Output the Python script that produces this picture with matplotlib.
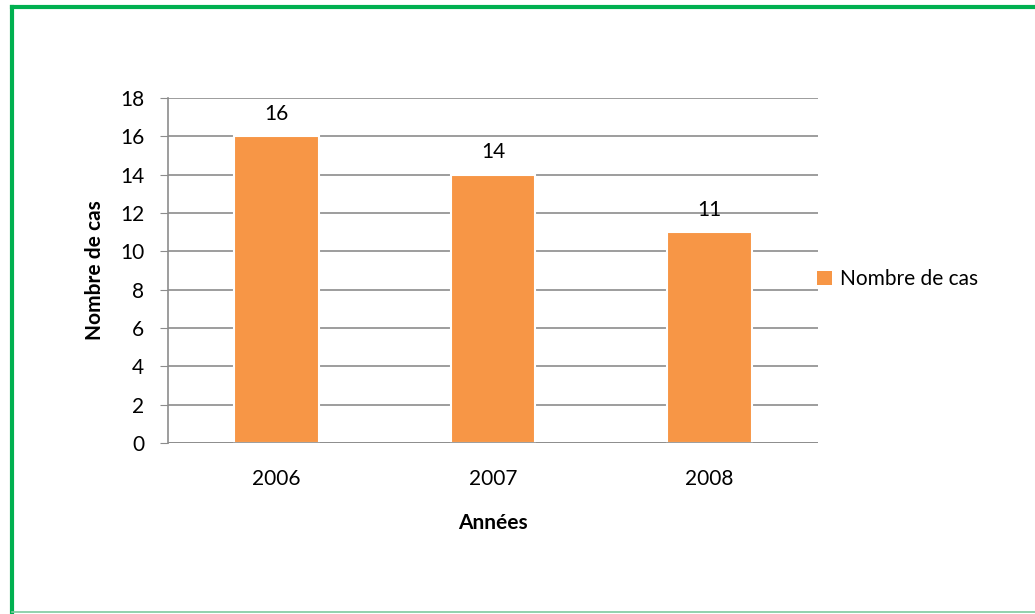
import matplotlib
matplotlib.use("Agg")
import matplotlib.pyplot as plt
from matplotlib.lines import Line2D
from matplotlib.patches import Patch

# data
years = ["2006", "2007", "2008"]
cases = [16, 14, 11]
y_ticks = [0, 2, 4, 6, 8, 10, 12, 14, 16, 18]

plt.rcParams['font.family'] = ['Lato', 'DejaVu Sans']
fs = 15

fig = plt.figure(figsize=(10.35, 6.14), dpi=100)
ax = fig.add_axes([0.1623, 0.2785, 0.6280, 0.5619])

x = range(len(years))
bars = ax.bar(x, cases, width=0.39, color="#F79646", edgecolor="white",
              linewidth=1.5, zorder=3, label="Nombre de cas")

for xi, v in zip(x, cases):
    ax.annotate(str(v), (xi, v), xytext=(0, 9), textcoords="offset points",
                ha="center", va="bottom", fontsize=fs)

ax.set_xlim(-0.5, len(years) - 0.5)
ax.set_ylim(0, 18)
ax.set_yticks(y_ticks)
ax.set_xticks(list(x))
ax.set_xticklabels(years)
ax.tick_params(axis="y", length=6, color="#8c8c8c", labelsize=fs, pad=11)
ax.tick_params(axis="x", length=0, labelsize=fs, pad=19)
ax.grid(axis="y", color="#8c8c8c", linewidth=1.2, zorder=0)
for s in ["top", "right", "bottom"]:
    ax.spines[s].set_visible(False)
ax.spines["left"].set_color("#8c8c8c")
ax.spines["left"].set_linewidth(1.2)
ax.axhline(0, color="#8c8c8c", linewidth=1.2, zorder=4)

ax.set_xlabel("Années", fontsize=fs, fontweight="bold", labelpad=17)
ax.set_ylabel("Nombre de cas", fontsize=fs, fontweight="bold", labelpad=11)

ax.legend(handles=[Patch(facecolor="#F79646", label="Nombre de cas")],
          loc="center left", bbox_to_anchor=(0.97, 0.475), frameon=False,
          fontsize=fs, handlelength=0.7, handleheight=0.7, handletextpad=0.4)

# green frame around the chart
fig.add_artist(Line2D([0.0116, 0.0116], [0.0, 0.9888], color="#00B050",
                      linewidth=3, transform=fig.transFigure))
fig.add_artist(Line2D([0.0116, 1.0], [0.9888, 0.9888], color="#00B050",
                      linewidth=3, transform=fig.transFigure))
fig.add_artist(Line2D([0.0116, 1.0], [0.003, 0.003], color="#7FCBA0",
                      linewidth=1.2, transform=fig.transFigure))

fig.savefig("out.png", dpi=100, facecolor="white")
